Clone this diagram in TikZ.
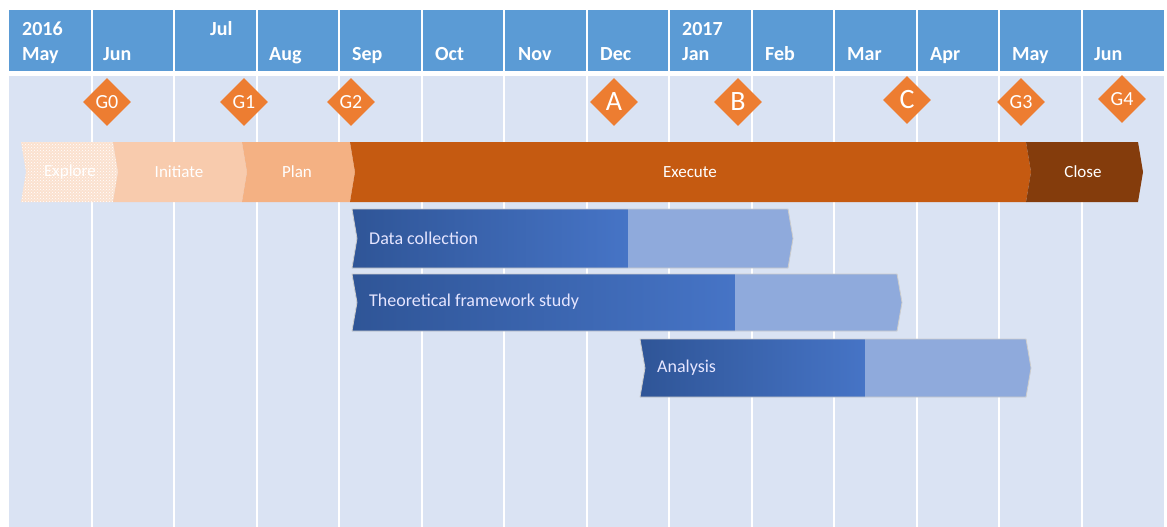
\documentclass[tikz,border=0pt]{standalone}
\usepackage{fontspec}
\setmainfont{Carlito}
\usetikzlibrary{shapes.geometric,patterns}
\definecolor{hdr}{HTML}{5B9BD5}
\definecolor{bodybg}{HTML}{DAE3F3}
\definecolor{gatec}{HTML}{ED7D31}
\definecolor{explc}{HTML}{FBE1CF}
\definecolor{initc}{HTML}{F8CBAD}
\definecolor{planc}{HTML}{F4B183}
\definecolor{execc}{HTML}{C55A11}
\definecolor{closec}{HTML}{843C0C}
\definecolor{taskdark}{HTML}{2F5597}
\definecolor{taskmid}{HTML}{4674C6}
\definecolor{tasklight}{HTML}{8FAADC}
\begin{document}
\begin{tikzpicture}[x=1pt,y=-1pt,line join=round,
	gate/.style={diamond,fill=gatec,text=white,inner sep=0pt,minimum size=48pt,font=\fontsize{20}{20}\selectfont},
	biggate/.style={gate,font=\fontsize{28}{28}\selectfont},
	phase/.style={text=white,font=\fontsize{17}{17}\selectfont},
	task/.style={text=white!90!blue,anchor=west,inner sep=0pt,font=\fontsize{18}{18}\selectfont},
	month/.style={text=white,anchor=base west,inner sep=0pt,font=\bfseries\fontsize{20}{20}\selectfont}]
	\useasboundingbox (0,0) rectangle (1167,527);
	% background: header and body
	\fill[hdr] (9,10) rectangle (1163.5,71);
	\fill[bodybg] (9,76) rectangle (1163.5,527);
	\foreach \i in {1,...,13}
	\draw[white,line width=2pt] ({9+82.5*\i},10) -- ({9+82.5*\i},527);
	
	% months
	\foreach \m/\x/\y [count=\i] in {2016/22/36,May/22/61,Jun/103/61,Jul/210/36,Aug/269/61,Sep/352/61,Oct/435/61,Nov/518/61,Dec/600/61,2017/682/36,Jan/682/61,Feb/765/61,Mar/847/61,Apr/930/61,May/1012/61,Jun/1094/61}
	\node[month] (mon\i) at (\x,\y) {\m};
	
	% gates
	\path (107,102) node[gate] (g0) {G0}
	(244,102) node[gate] (g1) {G1}
	(351,102) node[gate] (g2) {G2}
	(614,102) node[biggate] (ga) {A}
	(738,102) node[biggate] (gb) {B}
	(907,100) node[biggate] (gc) {C}
	(1021,102) node[gate] (g3) {G3}
	(1122,99) node[gate] (g4) {G4};
	
	% phases
	\fill[explc] (21,142) -- (113,142) -- (118,172) -- (113,202) -- (21,202) -- (26,172) -- cycle;
	\fill[pattern=crosshatch dots,pattern color=white] (21,142) -- (113,142) -- (118,172) -- (113,202) -- (21,202) -- (26,172) -- cycle;
	\foreach \a/\b/\c in {113/242/initc,242/350/planc,350/1026/execc,1026/1138/closec}
	\fill[\c] (\a,142) -- (\b,142) -- (\b+5,172) -- (\b,202) -- (\a,202) -- (\a+5,172) -- cycle;
	\foreach \p/\x in {Explore/70,Initiate/179,Plan/297,Execute/690,Close/1083}
	\node[phase] (\p) at (\x,172) {\p};
	
	% tasks
	\foreach \a/\g/\b/\t/\u in {352/628/788/209/268,352/735/897/274/331,640/865/1026/339/397}{
		\shade[left color=taskdark,right color=taskmid] (\a,\t) -- (\g,\t) -- (\g,\u) -- (\a,\u) -- (\a+5,{(\t+\u)/2}) -- cycle;
		\fill[tasklight] (\g,\t) -- (\b,\t) -- (\b+5,{(\t+\u)/2}) -- (\b,\u) -- (\g,\u) -- cycle;
		\draw[black!20,line width=0.8pt] (\a,\t) -- (\b,\t) -- (\b+5,{(\t+\u)/2}) -- (\b,\u) -- (\a,\u) -- (\a+5,{(\t+\u)/2}) -- cycle;
	}
	\node[task] (data) at (369,238) {Data collection};
	\node[task] (theory) at (369,302) {Theoretical framework study};
	\node[task] (analysis) at (657,368) {Analysis};
\end{tikzpicture}
\end{document}
